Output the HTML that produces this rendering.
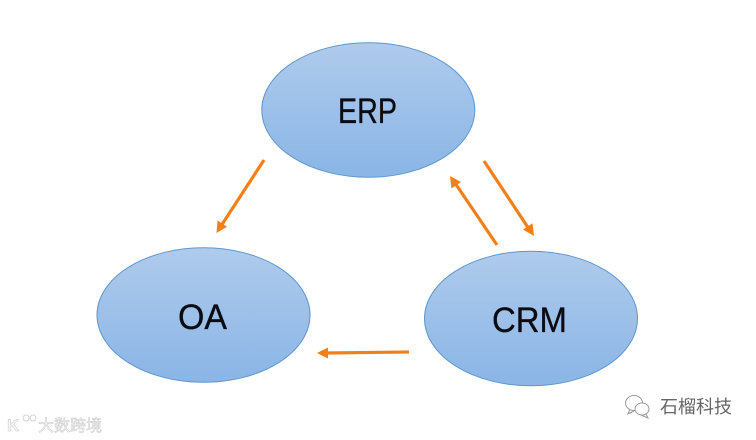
<!DOCTYPE html>
<html>
<head>
<meta charset="utf-8">
<style>
html,body{margin:0;padding:0;background:#fff;width:756px;height:440px;overflow:hidden}
svg{display:block}
</style>
</head>
<body>
<svg width="756" height="440" viewBox="0 0 756 440" xmlns="http://www.w3.org/2000/svg">
<defs>
<linearGradient id="g" x1="0" y1="0" x2="0" y2="1">
<stop offset="0" stop-color="#afcbec"/>
<stop offset="1" stop-color="#8ab5e6"/>
</linearGradient>
</defs>
<rect width="756" height="440" fill="#fff"/>
<ellipse cx="368.300" cy="110" rx="106.500" ry="67.300" fill="url(#g)" stroke="#5f97cc" stroke-width="1"/>
<ellipse cx="203.500" cy="315" rx="106.500" ry="67.300" fill="url(#g)" stroke="#5f97cc" stroke-width="1"/>
<ellipse cx="531" cy="318.500" rx="106.500" ry="67.300" fill="url(#g)" stroke="#5f97cc" stroke-width="1"/>
<g font-family="'Liberation Sans',sans-serif" font-size="35" fill="#0b0b12" stroke="#0b0b12" stroke-width="0.300">
<text x="338" y="123" textLength="59" lengthAdjust="spacingAndGlyphs">ERP</text>
<text x="178" y="329" textLength="49" lengthAdjust="spacingAndGlyphs">OA</text>
<text x="492" y="332" textLength="75" lengthAdjust="spacingAndGlyphs">CRM</text>
</g>
<g stroke="#f57f17" stroke-width="3.200" fill="none">
<line x1="264" y1="160" x2="221" y2="226"/>
<line x1="497" y1="245" x2="455" y2="183"/>
<line x1="484" y1="161" x2="529" y2="229"/>
<line x1="409" y1="352" x2="326" y2="353"/>
</g>
<g fill="#f57f17">
<polygon points="216.500,233 217.500,220.500 227,226.800"/>
<polygon points="450,176 461,182 451.500,188.500"/>
<polygon points="534,236 523,229.500 532.500,223.200"/>
<polygon points="317,353 328,347.500 328,358.500"/>
</g>
<g font-family="'Liberation Sans','Noto Sans CJK SC',sans-serif">
<text x="38" y="431" font-size="16" fill="#f6f6f6" stroke="#c8c8c8" stroke-width="0.500">大数跨境</text>
<text x="7" y="431" font-size="17" font-weight="bold" fill="#f6f6f6" stroke="#c8c8c8" stroke-width="0.500">K</text>
<circle cx="26" cy="418" r="3" fill="none" stroke="#d4d4d4"/>
<circle cx="33" cy="418" r="3" fill="none" stroke="#d4d4d4"/>
<text x="660" y="413" font-size="18" fill="#666">石榴科技</text>
</g>
<g fill="#fff" stroke="#9a9a9a" stroke-width="1">
<path d="M630 409 L628 414 L634 411 Z"/>
<ellipse cx="634" cy="403" rx="8.500" ry="7.500"/>
<path d="M646 414 L648 418 L642 415.500 Z"/>
<ellipse cx="642" cy="409" rx="7" ry="6"/>
</g>
</svg>
</body>
</html>
